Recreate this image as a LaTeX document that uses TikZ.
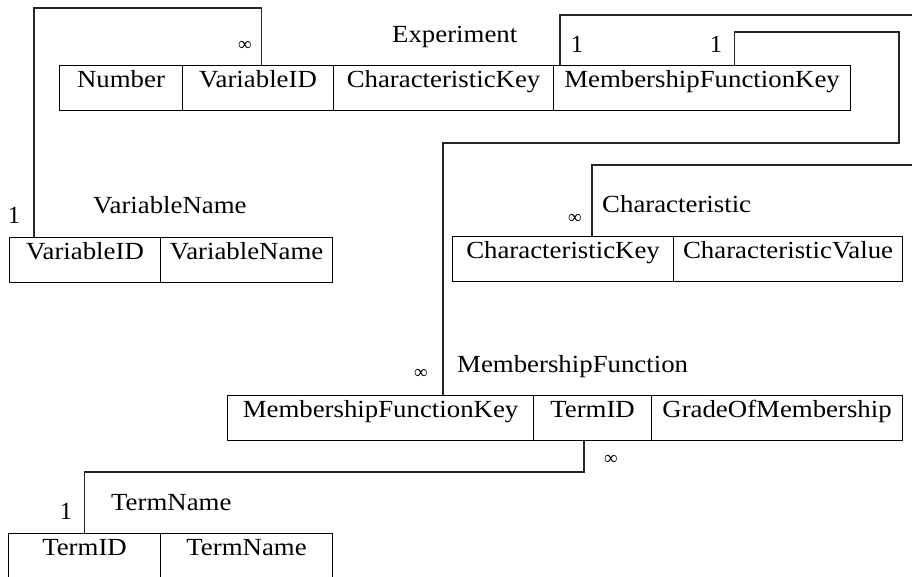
\documentclass[tikz,border=0pt]{standalone}
\usepackage{fontspec}
\setmainfont{Liberation Serif}
\usetikzlibrary{calc}
% slightly widened lettering
\newcommand{\wide}[1]{\scalebox{1.09}[1]{#1}}
\begin{document}
\begin{tikzpicture}[x=1pt,y=-1pt,
  cell/.style={draw,line width=1.1pt,inner sep=0pt,anchor=north west,
    minimum height=45pt,text height=22pt,text depth=23pt,
    font=\fontsize{24.6}{29}\selectfont},
  title/.style={inner sep=0pt,anchor=base west,font=\fontsize{24.6}{29}\selectfont},
  mult/.style={inner sep=0pt,anchor=base,font=\fontsize{24.6}{29}\selectfont},
  many/.style={inner sep=0pt,anchor=center,font=\fontsize{19}{22}\selectfont},
  link/.style={line width=1.1pt,draw=black!85}]
\useasboundingbox (0,0) rectangle (912,576);
\clip (0,0) rectangle (912,576);

% Experiment
\node[title] (t-exp) at (392,42) {\wide{Experiment}};
\node[cell,minimum width=123pt] (exp-num) at (59,65) {\wide{Number}};
\node[cell,minimum width=151pt] (exp-var) at (182,65) {\wide{VariableID}};
\node[cell,minimum width=220pt] (exp-chk) at (333,65) {\wide{CharacteristicKey}};
\node[cell,minimum width=297pt] (exp-mfk) at (553,65) {\wide{MembershipFunctionKey}};

% VariableName
\node[title] (t-vn) at (93,213) {\wide{VariableName}};
\node[cell,minimum width=151pt] (vn-id) at (9,237) {\wide{VariableID}};
\node[cell,minimum width=172pt] (vn-name) at (160,237) {\wide{VariableName}};

% Characteristic
\node[title] (t-ch) at (602,212) {\wide{Characteristic}};
\node[cell,minimum width=221pt] (ch-key) at (452,236) {\wide{CharacteristicKey}};
\node[cell,minimum width=229pt] (ch-val) at (673,236) {\wide{CharacteristicValue}};

% MembershipFunction
\node[title] (t-mf) at (457,372) {\wide{MembershipFunction}};
\node[cell,minimum width=306pt] (mf-key) at (227,395) {\wide{MembershipFunctionKey}};
\node[cell,minimum width=118pt] (mf-term) at (533,395) {\wide{TermID}};
\node[cell,minimum width=251pt] (mf-grade) at (651,395) {\wide{GradeOfMembership}};

% TermName
\node[title] (t-tn) at (111,510) {\wide{TermName}};
\node[cell,minimum width=152pt] (tn-id) at (8,533) {\wide{TermID}};
\node[cell,minimum width=172pt] (tn-name) at (160,533) {\wide{TermName}};

% multiplicities
\node[many] (m-exp-var) at (245,46) {∞};
\node[mult] (m-exp-a) at (577,52) {1};
\node[mult] (m-exp-b) at (716,52) {1};
\node[mult] (m-vn) at (14,223) {1};
\node[many] (m-ch) at (575,219) {∞};
\node[many] (m-mf) at (421,374) {∞};
\node[many] (m-mf-term) at (611,460) {∞};
\node[mult] (m-tn) at (66,519) {1};

% relationships
\coordinate (vn-in) at ([xshift=25pt]vn-id.north west);
\draw[link] ([xshift=3pt]exp-var.north) |- (34,8) -- (vn-in);

\coordinate (ch-in) at ([xshift=140pt]ch-key.north west);
\draw[link] ([xshift=7pt]exp-mfk.north west) |- (930,15) |- (ch-in |- 0,165) -- (ch-in);

\coordinate (mf-in) at ([xshift=216pt]mf-key.north west);
\draw[link] ([xshift=-117pt]exp-mfk.north east) |- (899,32) |- (mf-in |- 0,143) -- (mf-in);

\draw[link] ([xshift=51pt]mf-term.south west) |- (tn-id.north |- 0,472) -- (tn-id.north);
\end{tikzpicture}
\end{document}
